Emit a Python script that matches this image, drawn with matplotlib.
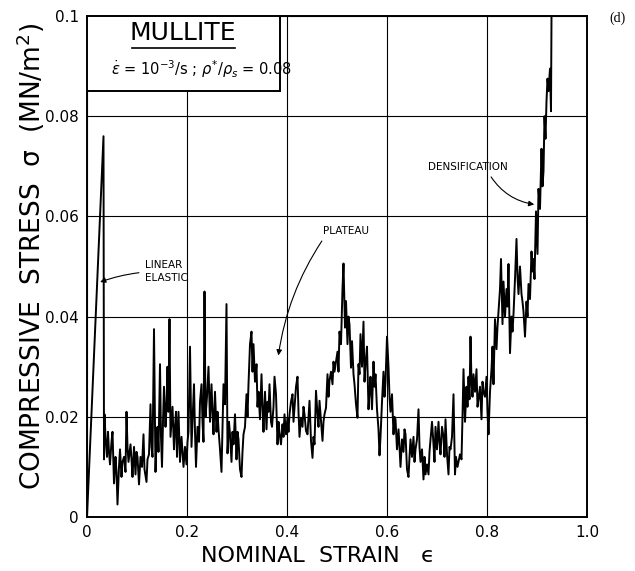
import numpy as np
import matplotlib
matplotlib.use("Agg")
from matplotlib import pyplot as plt
from matplotlib.patches import Rectangle

# (nominal strain, compressive stress MN/m^2)
elastic = [(0.0, 0.0), (0.033, 0.076), (0.034, 0.0115)]

plateau_early = [
    (0.035, 0.0205), (0.037, 0.016), (0.040, 0.012), (0.042, 0.017), (0.044, 0.013),
    (0.046, 0.0105), (0.049, 0.015), (0.051, 0.017), (0.054, 0.0067), (0.057, 0.012),
    (0.059, 0.009), (0.061, 0.0025), (0.064, 0.010), (0.066, 0.0135), (0.069, 0.008),
    (0.071, 0.011), (0.074, 0.012), (0.077, 0.009), (0.079, 0.021), (0.081, 0.014),
    (0.083, 0.011), (0.087, 0.0145), (0.089, 0.0115), (0.091, 0.008), (0.094, 0.014),
    (0.097, 0.0085), (0.099, 0.013), (0.101, 0.012), (0.104, 0.0065), (0.107, 0.012),
    (0.110, 0.010), (0.113, 0.0165), (0.115, 0.0095), (0.119, 0.007), (0.121, 0.0115),
    (0.124, 0.0125), (0.127, 0.0225), (0.129, 0.014), (0.131, 0.012), (0.134, 0.0375),
    (0.137, 0.009), (0.139, 0.015), (0.141, 0.018), (0.143, 0.013), (0.146, 0.0305),
    (0.148, 0.016), (0.150, 0.010), (0.152, 0.019), (0.154, 0.026), (0.157, 0.018),
    (0.159, 0.022), (0.161, 0.030), (0.163, 0.021), (0.165, 0.0395), (0.167, 0.016),
    (0.169, 0.019), (0.171, 0.022), (0.174, 0.0135), (0.176, 0.018), (0.178, 0.021),
    (0.180, 0.012), (0.183, 0.021), (0.186, 0.011), (0.189, 0.016), (0.191, 0.013),
    (0.193, 0.010), (0.196, 0.014), (0.199, 0.0105), (0.201, 0.015), (0.203, 0.017),
    (0.206, 0.034), (0.209, 0.014), (0.211, 0.019), (0.214, 0.0265), (0.216, 0.017),
    (0.218, 0.010), (0.221, 0.018), (0.224, 0.015), (0.226, 0.023), (0.229, 0.0265),
    (0.231, 0.019), (0.233, 0.015), (0.235, 0.045), (0.237, 0.020), (0.240, 0.024),
    (0.243, 0.030), (0.246, 0.019), (0.249, 0.0265), (0.251, 0.021), (0.253, 0.0165),
    (0.256, 0.025), (0.259, 0.017), (0.261, 0.021), (0.263, 0.0175), (0.266, 0.0135),
    (0.269, 0.009), (0.271, 0.018), (0.273, 0.0265), (0.276, 0.0225), (0.279, 0.0425),
    (0.281, 0.0127), (0.284, 0.019), (0.286, 0.0165), (0.289, 0.011), (0.291, 0.017),
    (0.293, 0.0145), (0.296, 0.0205), (0.299, 0.0115), (0.301, 0.017), (0.303, 0.0155),
    (0.306, 0.0095), (0.309, 0.008), (0.311, 0.013), (0.313, 0.0165), (0.316, 0.018),
    (0.319, 0.0245), (0.321, 0.020), (0.323, 0.0265), (0.326, 0.0345), (0.329, 0.037),
    (0.331, 0.029), (0.333, 0.0345), (0.336, 0.027), (0.339, 0.0305), (0.341, 0.022),
    (0.343, 0.025), (0.346, 0.0195), (0.349, 0.0285), (0.351, 0.022), (0.353, 0.017),
    (0.356, 0.025), (0.359, 0.0175),
]

plateau_late = [
    (0.361, 0.023), (0.363, 0.021), (0.365, 0.0265), (0.368, 0.019), (0.370, 0.018),
    (0.373, 0.022), (0.375, 0.028), (0.378, 0.0245), (0.381, 0.0145), (0.383, 0.019),
    (0.385, 0.0168), (0.388, 0.0145), (0.391, 0.0185), (0.393, 0.016), (0.395, 0.0205),
    (0.398, 0.0165), (0.401, 0.0198), (0.403, 0.017), (0.405, 0.0205), (0.408, 0.023),
    (0.411, 0.0245), (0.413, 0.019), (0.415, 0.0218), (0.418, 0.026), (0.421, 0.028),
    (0.423, 0.021), (0.425, 0.016), (0.428, 0.0198), (0.431, 0.018), (0.433, 0.022),
    (0.435, 0.0205), (0.438, 0.0172), (0.441, 0.0165), (0.443, 0.020), (0.445, 0.0232),
    (0.448, 0.0152), (0.451, 0.0118), (0.453, 0.016), (0.455, 0.0145), (0.458, 0.0252),
    (0.461, 0.0205), (0.463, 0.018), (0.465, 0.0232), (0.468, 0.0192), (0.471, 0.0152),
    (0.473, 0.019), (0.475, 0.0205), (0.478, 0.0218), (0.481, 0.0285), (0.483, 0.024),
    (0.485, 0.0272), (0.488, 0.029), (0.491, 0.0265), (0.493, 0.031), (0.495, 0.029),
    (0.498, 0.031), (0.501, 0.033), (0.503, 0.029), (0.505, 0.037), (0.508, 0.0345),
    (0.511, 0.0456), (0.513, 0.0506), (0.516, 0.0378), (0.518, 0.0431), (0.521, 0.0345),
    (0.523, 0.040), (0.525, 0.0384), (0.528, 0.0298), (0.530, 0.0351), (0.533, 0.0285),
    (0.535, 0.0265), (0.538, 0.0225), (0.541, 0.0198), (0.543, 0.0305), (0.545, 0.0285),
    (0.547, 0.0365), (0.550, 0.030), (0.553, 0.039), (0.555, 0.027), (0.557, 0.0305),
    (0.560, 0.034), (0.563, 0.0215), (0.565, 0.025), (0.567, 0.028), (0.570, 0.0215),
    (0.573, 0.031), (0.575, 0.026), (0.577, 0.0285), (0.580, 0.0215), (0.583, 0.0175),
    (0.585, 0.0123), (0.587, 0.016), (0.590, 0.023), (0.593, 0.029), (0.595, 0.024),
    (0.597, 0.027), (0.600, 0.036), (0.603, 0.030), (0.605, 0.024), (0.607, 0.021),
    (0.610, 0.0245), (0.613, 0.0165), (0.615, 0.020), (0.617, 0.0195), (0.620, 0.0135),
    (0.623, 0.0175), (0.625, 0.014), (0.627, 0.010), (0.630, 0.0155), (0.633, 0.013),
    (0.635, 0.0175), (0.637, 0.0165), (0.640, 0.0095), (0.643, 0.008), (0.645, 0.012),
    (0.647, 0.0155), (0.650, 0.012), (0.653, 0.016), (0.655, 0.011), (0.657, 0.0135),
    (0.660, 0.0155), (0.663, 0.0215), (0.665, 0.014), (0.667, 0.011), (0.670, 0.0135),
    (0.673, 0.0075), (0.675, 0.012), (0.677, 0.0085), (0.680, 0.0105), (0.683, 0.0085),
    (0.685, 0.013), (0.687, 0.0155), (0.690, 0.019), (0.693, 0.0145), (0.695, 0.011),
    (0.697, 0.018), (0.700, 0.0135), (0.703, 0.019), (0.705, 0.015), (0.707, 0.0125),
    (0.710, 0.018), (0.713, 0.016), (0.715, 0.012), (0.717, 0.0195), (0.720, 0.0125),
    (0.723, 0.0085), (0.725, 0.014), (0.727, 0.0135), (0.730, 0.016), (0.733, 0.0245),
    (0.736, 0.0085), (0.738, 0.012), (0.741, 0.010), (0.743, 0.011), (0.746, 0.0125),
    (0.749, 0.0115),
]

densification = [
    (0.751, 0.020), (0.753, 0.0295), (0.756, 0.019), (0.759, 0.026), (0.761, 0.022),
    (0.763, 0.028), (0.765, 0.0235), (0.767, 0.036), (0.769, 0.027), (0.771, 0.024),
    (0.773, 0.0285), (0.776, 0.025), (0.779, 0.0295), (0.781, 0.022), (0.783, 0.0235),
    (0.786, 0.026), (0.789, 0.0195), (0.791, 0.027), (0.793, 0.025), (0.796, 0.024),
    (0.799, 0.028), (0.801, 0.021), (0.803, 0.0165), (0.806, 0.025), (0.809, 0.0295),
    (0.811, 0.034), (0.813, 0.0265), (0.816, 0.0395), (0.819, 0.0335), (0.821, 0.038),
    (0.823, 0.041), (0.826, 0.0455), (0.828, 0.0515), (0.831, 0.0385), (0.833, 0.047),
    (0.836, 0.040), (0.839, 0.0455), (0.841, 0.042), (0.843, 0.0505), (0.846, 0.0327),
    (0.849, 0.040), (0.851, 0.037), (0.853, 0.0405), (0.856, 0.0475), (0.859, 0.0555),
    (0.861, 0.048), (0.863, 0.0445), (0.866, 0.050), (0.869, 0.0445), (0.871, 0.043),
    (0.873, 0.041), (0.876, 0.036), (0.879, 0.043), (0.881, 0.040), (0.883, 0.0465),
    (0.886, 0.0435), (0.889, 0.053), (0.891, 0.049), (0.893, 0.0515), (0.895, 0.0475),
    (0.898, 0.061), (0.901, 0.0525), (0.903, 0.0655), (0.906, 0.0615), (0.909, 0.0735),
    (0.911, 0.066), (0.913, 0.069), (0.915, 0.080), (0.917, 0.0755), (0.919, 0.083),
    (0.921, 0.0875), (0.923, 0.085), (0.926, 0.0895), (0.928, 0.081), (0.929, 0.1),
]

x_ticks = [0, 0.2, 0.4, 0.6, 0.8, 1.0]
x_labels = ["0", "0.2", "0.4", "0.6", "0.8", "1.0"]
y_ticks = [0, 0.02, 0.04, 0.06, 0.08, 0.1]
y_labels = ["0", "0.02", "0.04", "0.06", "0.08", "0.1"]


def main():
    plt.rcParams["font.family"] = ["DejaVu Sans"]
    plt.rcParams["mathtext.fontset"] = "dejavusans"

    trace = np.array(elastic + plateau_early + plateau_late + densification)

    fig = plt.figure(figsize=(6.35, 5.71), dpi=100)
    ax = fig.add_axes([87 / 635, 1 - 517 / 571, 500 / 635, 501 / 571])
    ax.set_axisbelow(True)

    ax.plot(trace[:, 0], trace[:, 1], color="black", lw=1.4, zorder=2)

    ax.set_xlim(0, 1.0)
    ax.set_ylim(0, 0.1)
    ax.set_xticks(x_ticks, x_labels, fontsize=11)
    ax.set_yticks(y_ticks, y_labels, fontsize=11)
    ax.tick_params(length=0, pad=6)
    ax.grid(color="black", lw=0.8)
    for spine in ax.spines.values():
        spine.set_linewidth(1.4)

    ax.set_xlabel("NOMINAL  STRAIN   \u03f5", fontsize=16)
    ax.xaxis.set_label_coords(0.462, -0.058)
    ax.set_ylabel("COMPRESSIVE  STRESS  \u03c3  (MN/m$^2$)", fontsize=19)
    ax.yaxis.set_label_coords(-0.08, 0.52)

    # title box in the top left corner, drawn over the grid
    ax.add_patch(Rectangle((0, 0.0851), 0.386, 0.0149, facecolor="white",
                           edgecolor="black", lw=1.4, zorder=5))
    ax.text(0.192, 0.0966, "MULLITE", fontsize=18, ha="center", va="center",
            zorder=6)
    ax.plot([0.09, 0.296], [0.0936, 0.0936], color="black", lw=1.2, zorder=6)
    ax.text(0.23, 0.0893,
            r"$\dot{\epsilon}$ = 10$^{-3}$/s ; $\rho^{*}/\rho_{s}$ = 0.08",
            fontsize=10.5, ha="center", va="center", zorder=6)

    arrow = dict(arrowstyle="-|>", color="black", lw=0.8, mutation_scale=8)
    ax.annotate("LINEAR\nELASTIC", xy=(0.021, 0.0467), xytext=(0.115, 0.049),
                fontsize=7.5, ha="left", va="center", linespacing=1.3,
                arrowprops=dict(arrow, connectionstyle="arc3,rad=0.1"))
    ax.annotate("PLATEAU", xy=(0.382, 0.0317), xytext=(0.518, 0.0571),
                fontsize=7.5, ha="center", va="center",
                arrowprops=dict(arrow, relpos=(0.05, 0.0),
                                connectionstyle="arc3,rad=0.12"))
    ax.annotate("DENSIFICATION", xy=(0.9, 0.0623), xytext=(0.762, 0.0699),
                fontsize=7.5, ha="center", va="center",
                arrowprops=dict(arrow, relpos=(0.75, 0.0),
                                connectionstyle="arc3,rad=0.25"))

    fig.text(0.972, 0.968, "(d)", family="Liberation Serif", fontsize=10,
             ha="center", va="center")

    fig.savefig("out.png", dpi=100)


if __name__ == "__main__":
    main()
